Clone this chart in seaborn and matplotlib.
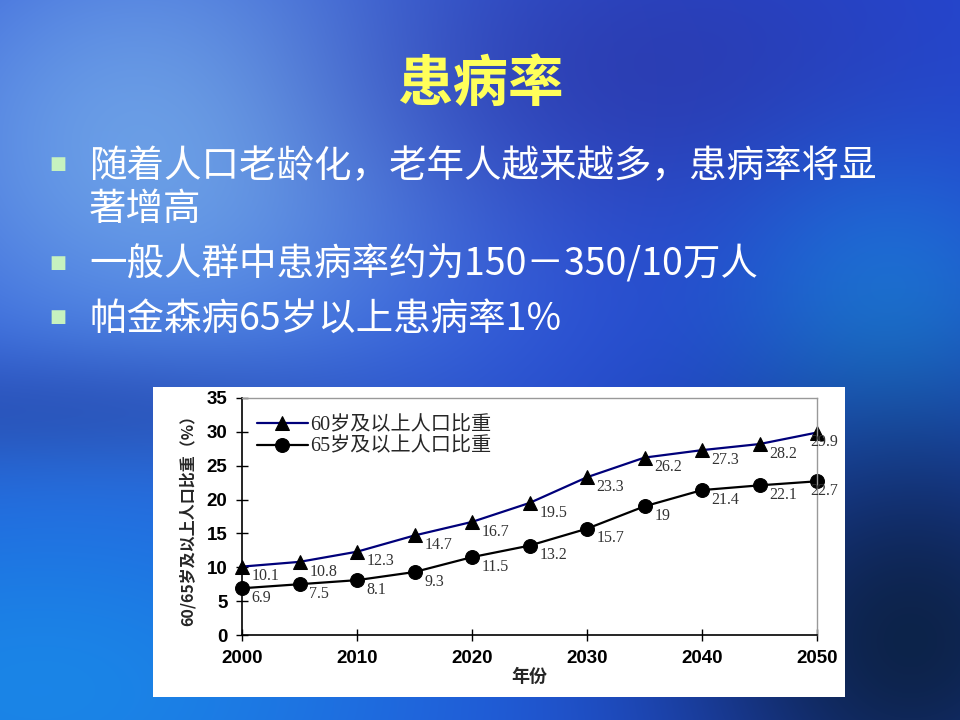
import numpy as np
import pandas as pd
import matplotlib
matplotlib.use("Agg")
import matplotlib.pyplot as plt
from matplotlib.patches import Rectangle
import seaborn as sns

# chart data
years = [2000, 2005, 2010, 2015, 2020, 2025, 2030, 2035, 2040, 2045, 2050]
share_60 = [10.1, 10.8, 12.3, 14.7, 16.7, 19.5, 23.3, 26.2, 27.3, 28.2, 29.9]
share_65 = [6.9, 7.5, 8.1, 9.3, 11.5, 13.2, 15.7, 19, 21.4, 22.1, 22.7]
series_names = ["60岁及以上人口比重", "65岁及以上人口比重"]
x_ticks = [2000, 2010, 2020, 2030, 2040, 2050]
y_ticks = [0, 5, 10, 15, 20, 25, 30, 35]

title = "患病率"
bullets = [
    "随着人口老龄化，老年人越来越多，患病率将显\n著增高",
    "一般人群中患病率约为150－350/10万人",
    "帕金森病65岁以上患病率1%",
]

sns.set_style("ticks")
plt.rcParams["font.family"] = ["Noto Sans CJK SC", "DejaVu Sans"]

W, H = 960, 720
fig = plt.figure(figsize=(9.6, 7.2), dpi=100)

# slide background: soft blue gradient made of a few blurred blobs
yy, xx = np.mgrid[0:H, 0:W]
img = np.ones((H, W, 3)) * np.array(matplotlib.colors.to_rgb("#2448d4"))
blobs = [
    (170, 140, 230, 190, "#72a8ea", 0.95),
    (640, 70, 220, 110, "#2b36a6", 0.7),
    (40, 420, 260, 45, "#2c3a9c", 0.7),
    (40, 690, 320, 170, "#1a88e8", 0.95),
    (890, 320, 110, 110, "#1c84e2", 0.8),
    (910, 640, 170, 170, "#0c2246", 0.97),
]
for cx, cy, sx, sy, col, k in blobs:
    w = k * np.exp(-((xx - cx) ** 2 / (2 * sx ** 2) + (yy - cy) ** 2 / (2 * sy ** 2)))
    img = img * (1 - w[..., None]) + np.array(matplotlib.colors.to_rgb(col)) * w[..., None]

bg = fig.add_axes([0, 0, 1, 1], zorder=-5)
bg.imshow(img, extent=(0, W, H, 0), aspect="auto")
bg.add_patch(Rectangle((153, 387), 692, 310, facecolor="white", edgecolor="none"))
bg.set_xlim(0, W)
bg.set_ylim(H, 0)
bg.axis("off")

# title and bullet text
fig.text(480 / W, 1 - 85 / H, title, color="#ffff5a", fontsize=40,
         fontweight="bold", ha="center", va="center")
bullet_y = [163, 262, 316]
for yb, line in zip(bullet_y, bullets):
    fig.text(58 / W, 1 - (yb + 1) / H, "■", color="#c6f2bf", fontsize=13,
             ha="center", va="center", family=["DejaVu Sans"])
    fig.text(89 / W, 1 - (yb - 16) / H, line, color="white", fontsize=27,
             ha="left", va="top", linespacing=1.12)

# the chart
df = pd.DataFrame({
    "年份": years * 2,
    "value": share_60 + share_65,
    "series": [series_names[0]] * len(years) + [series_names[1]] * len(years),
})

ax = fig.add_axes([242 / W, 1 - 635 / H, 575 / W, 237 / H])
ax.set_facecolor("white")
sns.lineplot(data=df, x="年份", y="value", hue="series", style="series",
             markers={series_names[0]: "^", series_names[1]: "o"}, dashes=False,
             palette={series_names[0]: "#00007a", series_names[1]: "black"},
             markersize=10, linewidth=1.6, legend=False, ax=ax)
for ln in ax.get_lines():
    ln.set_markerfacecolor("black")
    ln.set_markeredgecolor("black")
    ln.set_clip_on(False)

ax.legend(ax.get_lines()[:2], series_names, loc="upper left",
          bbox_to_anchor=(-0.005, 1.0), frameon=False, handlelength=2.5,
          handletextpad=0.15, labelspacing=0.12,
          prop={"family": ["Liberation Serif", "Noto Sans CJK SC"], "size": 14.5})

# data labels
label_font = ["Liberation Serif", "DejaVu Serif"]
for vals in (share_60, share_65):
    for i, (yr, v) in enumerate(zip(years, vals)):
        last = i == len(years) - 1
        ax.annotate(f"{v:g}", (yr, v), textcoords="offset points",
                    xytext=(-5 if last else 7, -7), ha="left", va="center",
                    fontsize=11.5, color="#333333", family=label_font,
                    annotation_clip=False)

ax.set_xlim(2000, 2050)
ax.set_ylim(0, 35)
ax.set_xticks(x_ticks)
ax.set_yticks(y_ticks)
ax.tick_params(direction="inout", length=9, width=1, colors="black",
               labelsize=13.5, pad=6)
for lab in ax.get_xticklabels() + ax.get_yticklabels():
    lab.set_fontweight("bold")
    lab.set_family(["Liberation Sans", "DejaVu Sans"])
ax.set_xlabel("年份", fontsize=13, fontweight="bold", labelpad=0)
ax.set_ylabel("60/65岁及以上人口比重（%）", fontsize=11.5, fontweight="bold",
              labelpad=8)
for side in ("left", "bottom"):
    ax.spines[side].set_color("black")
    ax.spines[side].set_linewidth(1.2)
for side in ("top", "right"):
    ax.spines[side].set_visible(True)
    ax.spines[side].set_color("#999999")
    ax.spines[side].set_linewidth(1)

fig.savefig("out.png", dpi=100)
